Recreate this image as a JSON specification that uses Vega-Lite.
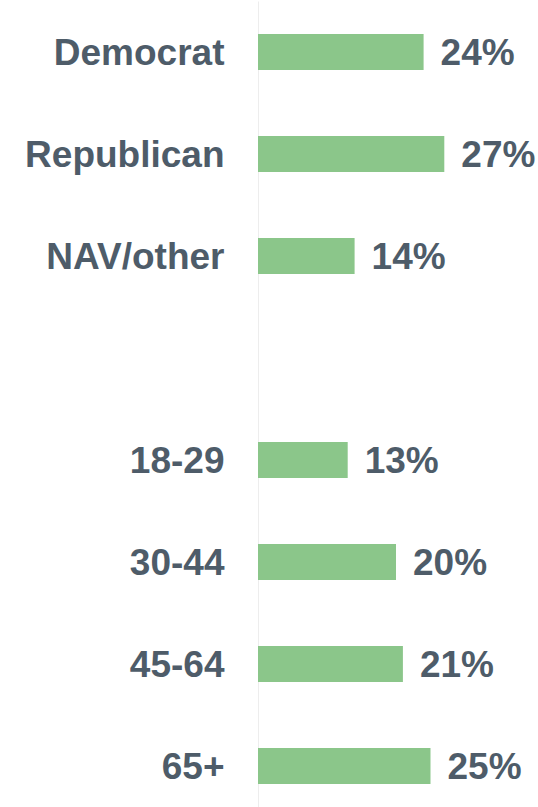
{
  "$schema": "https://vega.github.io/schema/vega-lite/v6.json",
  "autosize": {"type": "none"},
  "padding": {"left": 258, "top": 1, "right": 0, "bottom": 0},
  "width": 280,
  "height": 816,
  "background": "white",
  "config": {"view": {"stroke": null}, "font": "Liberation Sans"},
  "data": {
    "values": [
      {"group": "Democrat", "share": 0.24},
      {"group": "Republican", "share": 0.27},
      {"group": "NAV/other", "share": 0.14},
      {"group": "18-29", "share": 0.13},
      {"group": "30-44", "share": 0.20},
      {"group": "45-64", "share": 0.21},
      {"group": "65+", "share": 0.25}
    ]
  },
  "encoding": {
    "y": {
      "field": "group",
      "type": "nominal",
      "sort": null,
      "scale": {
        "domain": ["Democrat", "Republican", "NAV/other", " ", "18-29", "30-44", "45-64", "65+"],
        "paddingInner": 0.647,
        "paddingOuter": 0.323
      },
      "axis": {
        "title": null,
        "ticks": false,
        "labelPadding": 34,
        "labelLimit": 0,
        "labelOffset": 2,
        "labelFont": "Liberation Sans",
        "labelFontSize": 37,
        "labelFontWeight": "bold",
        "labelColor": "#4e5c69",
        "domainColor": "#ededed",
        "domainWidth": 1,
        "grid": false
      }
    },
    "x": {
      "field": "share",
      "type": "quantitative",
      "scale": {"domain": [0, 0.4058], "nice": false},
      "axis": null
    }
  },
  "layer": [
    {"mark": {"type": "bar", "color": "#8bc68a"}},
    {
      "mark": {
        "type": "text",
        "align": "left",
        "baseline": "middle",
        "dx": 17,
        "dy": 2,
        "font": "Liberation Sans",
        "fontSize": 37,
        "fontWeight": "bold",
        "color": "#4e5c69"
      },
      "encoding": {"text": {"field": "share", "type": "quantitative", "format": ".0%"}}
    }
  ]
}
